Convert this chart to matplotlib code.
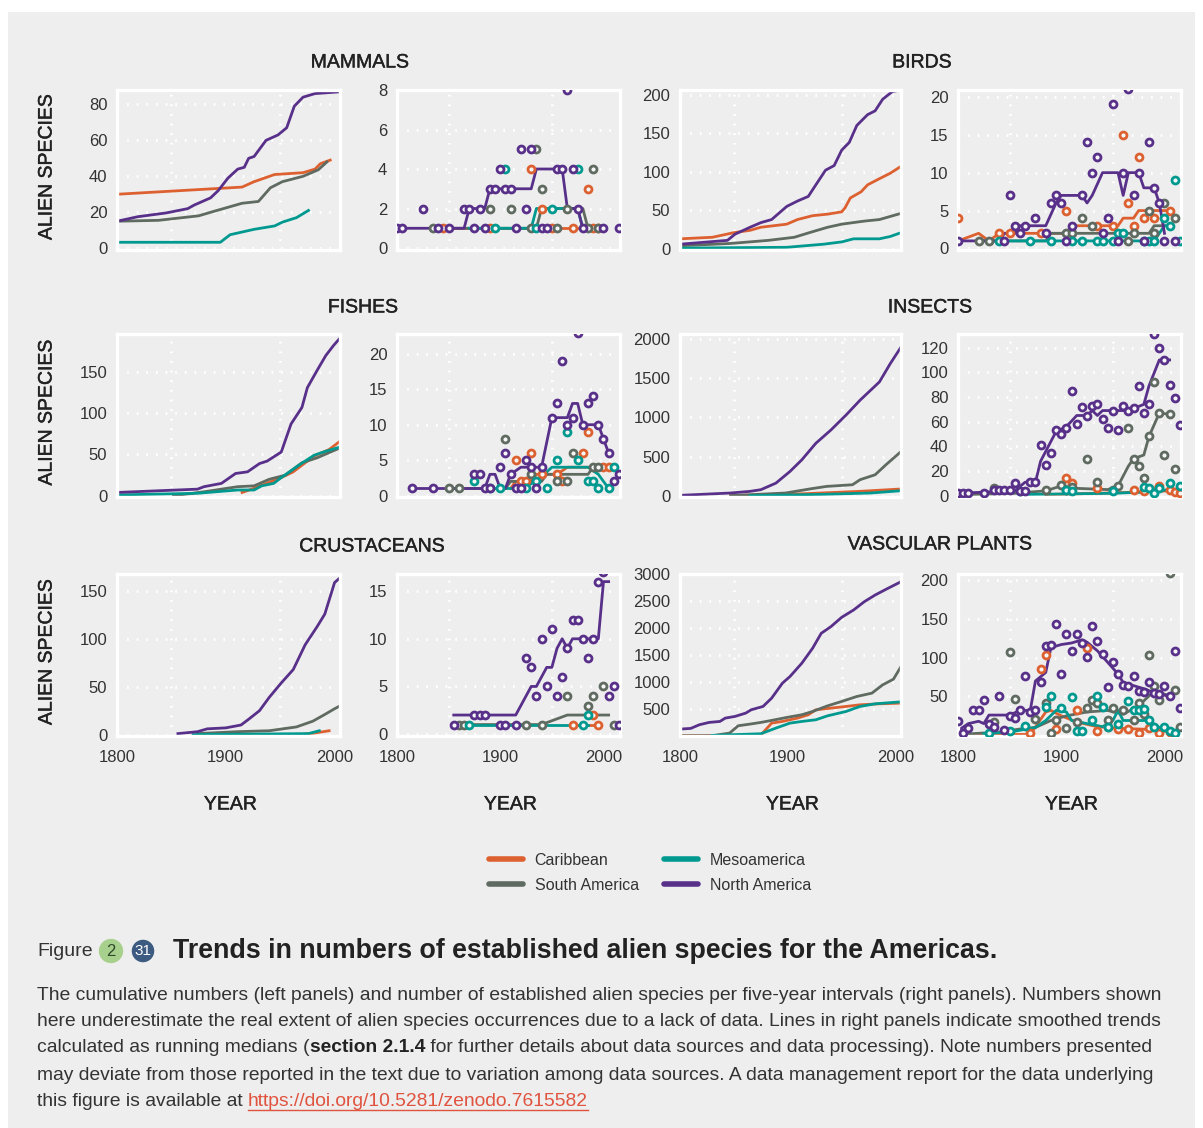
import matplotlib
matplotlib.use("Agg")
import matplotlib.pyplot as plt
import matplotlib.patheffects as pe
from matplotlib.lines import Line2D
from matplotlib.patches import Rectangle

W, H = 1203, 1128
BG = "#eeeeee"
TXT = "#222222"
FONT = ["Liberation Sans", "DejaVu Sans"]

REGIONS = ["Caribbean", "South America", "Mesoamerica", "North America"]
COLORS = {
    "Caribbean": "#dd6130",
    "South America": "#5f6a60",
    "Mesoamerica": "#00998f",
    "North America": "#58308a",
}

FIVE_YEAR_BINS = [1800, 1805, 1810, 1815, 1820, 1825, 1830, 1835, 1840, 1845, 1850,
                  1855, 1860, 1865, 1870, 1875, 1880, 1885, 1890, 1895, 1900, 1905,
                  1910, 1915, 1920, 1925, 1930, 1935, 1940, 1945, 1950, 1955, 1960,
                  1965, 1970, 1975, 1980, 1985, 1990, 1995, 2000, 2005, 2010, 2015]

# ---- MAMMALS ----
MAM_CUM = {
    "Caribbean": ([1800, 1915, 1926, 1945, 1971, 1982, 1987, 1996],
                  [30, 34, 37, 41, 42, 44, 47, 49]),
    "South America": ([1800, 1838, 1875, 1889, 1915, 1930, 1941, 1952, 1971, 1985, 1993],
                      [15, 15.5, 18, 20.5, 25, 26, 33.6, 37, 40, 43.6, 48]),
    "Mesoamerica": ([1800, 1895, 1904, 1926, 1945, 1952, 1965, 1976],
                    [3.3, 3.3, 7.5, 10.5, 12.4, 14.5, 17, 21]),
    "North America": ([1800, 1819, 1845, 1865, 1871, 1886, 1893, 1902, 1911, 1917, 1921, 1926,
                       1937, 1948, 1956, 1963, 1971, 1982, 2005],
                      [15, 17.5, 19.6, 22, 24, 28, 32, 39, 44, 45, 50, 51, 60, 63, 67, 79, 84, 86, 87]),
}
MAM_PTS = {
    "Caribbean": ([1845, 1890, 1930, 1940, 1950, 1970, 1985, 1990, 1995],
                  [1, 1, 4, 2, 1, 1, 3, 1, 1]),
    "South America": ([1835, 1890, 1910, 1930, 1935, 1940, 1955, 1965, 1985, 1990, 1995],
                      [1, 2, 2, 1, 5, 3, 1, 2, 1, 4, 1]),
    "Mesoamerica": ([1895, 1905, 1935, 1950, 1975], [1, 4, 1, 2, 4]),
    "North America": ([1800, 1805, 1825, 1840, 1850, 1865, 1870, 1875, 1880, 1885, 1890, 1895,
                       1900, 1905, 1910, 1915, 1920, 1925, 1930, 1940, 1945, 1955, 1960, 1965,
                       1970, 1975, 1980, 2000, 2015],
                      [1, 1, 2, 1, 1, 2, 2, 1, 2, 1, 3, 3, 4, 3, 3, 1, 5, 2, 5, 1, 1, 4, 4, 8,
                       4, 2, 1, 1, 1]),
}
MAM_MED = {
    "Caribbean": ([1845, 2000], [1, 1]),
    "South America": ([1835, 1935, 1940, 1980, 1985, 2000], [1, 1, 2, 2, 1, 1]),
    "Mesoamerica": ([1870, 1930, 1935, 1975, 1980], [1, 1, 2, 2, 1]),
    "North America": ([1800, 1865, 1870, 1885, 1890, 1930, 1935, 1960, 1965, 1975, 1980, 2000],
                      [1, 1, 2, 2, 3, 3, 4, 4, 2, 2, 1, 1]),
}

# ---- BIRDS ----
BIR_CUM = {
    "Caribbean": ([1800, 1830, 1850, 1865, 1875, 1899, 1909, 1923, 1937, 1950, 1953, 1958,
                   1968, 1974, 1985, 1995, 2005],
                  [13, 15, 21, 24, 28, 32, 38, 43, 45, 48, 53, 66, 74, 83, 91, 98, 107]),
    "South America": ([1800, 1847, 1882, 1906, 1920, 1937, 1950, 1971, 1985, 2005],
                      [4, 7, 11, 15, 21, 28, 32, 36, 38, 46]),
    "Mesoamerica": ([1800, 1899, 1933, 1950, 1961, 1985, 1995, 2005],
                    [1, 2, 6, 9, 13, 13, 16, 21]),
    "North America": ([1800, 1844, 1851, 1865, 1875, 1885, 1899, 1909, 1919, 1926, 1935, 1943,
                       1950, 1957, 1964, 1974, 1981, 1988, 1997, 2005],
                      [6, 11, 19, 28, 34, 38, 55, 62, 68, 83, 102, 108, 128, 138, 160, 174,
                       179, 194, 204, 206]),
}
BIR_PTS = {
    "Caribbean": ([1800, 1840, 1850, 1880, 1905, 1935, 1950, 1960, 1965, 1970, 1975, 1980, 1990, 2005],
                  [4, 2, 2, 2, 5, 3, 3, 15, 6, 3, 12, 4, 4, 5]),
    "South America": ([1820, 1830, 1905, 1910, 1920, 1930, 1965, 1970, 1985, 1990, 2000, 2010],
                      [1, 1, 2, 2, 4, 3, 1, 2, 5, 2, 6, 4]),
    "Mesoamerica": ([1840, 1870, 1890, 1910, 1920, 1935, 1940, 1950, 1955, 1960, 1980, 1985,
                     1990, 2000, 2005, 2010, 2015],
                    [1, 1, 1, 1, 1, 1, 1, 1, 2, 2, 1, 1, 1, 4, 3, 9, 1]),
    "North America": ([1800, 1845, 1850, 1855, 1860, 1865, 1875, 1885, 1890, 1895, 1900, 1905,
                       1910, 1920, 1925, 1930, 1935, 1940, 1945, 1950, 1955, 1960, 1965, 1970,
                       1975, 1980, 1985, 1990, 1995, 2000, 2010],
                      [1, 1, 7, 3, 2, 3, 4, 2, 6, 7, 6, 1, 3, 7, 14, 10, 12, 2, 4, 19, 1, 10,
                       21, 7, 10, 1, 14, 8, 6, 1, 1]),
}
BIR_MED = {
    "Caribbean": ([1800, 1820, 1830, 1840, 1905, 1910, 1955, 1960, 1970, 1975, 2005],
                  [1, 2, 1, 2, 2, 3, 3, 4, 4, 5, 5]),
    "South America": ([1820, 1885, 1890, 1985, 1990, 2000], [1, 1, 2, 2, 3, 3]),
    "Mesoamerica": ([1840, 1990, 2000, 2005], [1, 1, 3, 3]),
    "North America": ([1800, 1840, 1845, 1855, 1860, 1885, 1895, 1900, 1910, 1920, 1925, 1930,
                       1940, 1955, 1960, 1965, 1975, 1980, 1990, 1995, 2000],
                      [1, 1, 2, 2, 3, 3, 6, 7, 7, 7, 6, 7, 10, 10, 7, 10, 10, 8, 8, 6, 2]),
}

# ---- FISHES ----
FIS_CUM = {
    "Caribbean": ([1915, 1926, 1951, 1962, 1981, 1995, 2005], [4, 9, 22, 29, 48, 56, 66]),
    "South America": ([1852, 1881, 1911, 1926, 1940, 1955, 1970, 1984, 2005],
                      [0, 5, 11, 12, 20, 25, 40, 46, 58]),
    "Mesoamerica": ([1800, 1874, 1911, 1926, 1933, 1944, 1951, 1966, 1981, 1992, 2005],
                    [1, 3, 7, 7, 12, 15, 22, 36, 49, 54, 59]),
    "North America": ([1800, 1837, 1874, 1880, 1896, 1909, 1920, 1931, 1938, 1951, 1960, 1970,
                       1975, 1984, 1992, 1999, 2005],
                      [4, 6, 8, 11, 15, 27, 29, 39, 42, 53, 87, 107, 131, 152, 170, 182, 191]),
}
FIS_PTS = {
    "Caribbean": ([1915, 1920, 1925, 1930, 1940, 1955, 1960, 1980, 1985, 2000, 2005],
                  [5, 2, 2, 6, 3, 3, 2, 6, 9, 4, 4]),
    "South America": ([1850, 1860, 1905, 1930, 1955, 1965, 1970, 1990, 1995],
                      [1, 1, 8, 3, 2, 2, 6, 4, 4]),
    "Mesoamerica": ([1875, 1890, 1900, 1925, 1935, 1945, 1955, 1965, 1975, 1985, 1990, 1995,
                     2005, 2010],
                    [2, 1, 1, 1, 2, 1, 5, 9, 5, 2, 2, 1, 1, 4]),
    "North America": ([1815, 1835, 1875, 1880, 1885, 1890, 1900, 1905, 1910, 1915, 1920, 1925,
                       1930, 1935, 1940, 1950, 1955, 1960, 1965, 1970, 1975, 1980, 1985, 1990,
                       1995, 2000, 2005, 2010, 2015],
                      [1, 1, 3, 3, 1, 1, 4, 6, 3, 1, 1, 5, 4, 1, 4, 11, 13, 19, 10, 11, 23,
                       10, 13, 14, 10, 8, 6, 2, 3]),
}
FIS_MED = {
    "Caribbean": ([1910, 1915, 1930, 1935, 1955, 1965, 2005], [1, 2, 2, 3, 3, 4, 4]),
    "South America": ([1850, 1905, 1910, 1940, 1945, 1985, 1990, 2005], [1, 1, 2, 2, 3, 3, 4, 4]),
    "Mesoamerica": ([1890, 1920, 1935, 1950, 1985, 1995, 2000, 2005], [1, 1, 2, 4, 4, 3, 2, 1]),
    "North America": ([1815, 1885, 1890, 1895, 1900, 1905, 1910, 1920, 1940, 1950, 1965, 1970,
                       1975, 1980, 1995, 2000, 2005],
                      [1, 1, 3, 3, 1, 1, 3, 4, 4, 11, 11, 13, 13, 10, 10, 8, 6]),
}

# ---- INSECTS ----
INS_CUM = {
    "Caribbean": ([1847, 1916, 1967, 2005], [2, 27, 57, 87]),
    "South America": ([1847, 1898, 1922, 1936, 1960, 1967, 1981, 1991, 1998, 2005],
                      [2, 36, 91, 120, 141, 205, 268, 395, 479, 563]),
    "Mesoamerica": ([1865, 1933, 1977, 2005], [2, 19, 36, 65]),
    "North America": ([1800, 1847, 1865, 1875, 1889, 1902, 1913, 1926, 1940, 1954, 1967, 1985,
                       1995, 2005],
                      [6, 36, 57, 78, 162, 310, 458, 669, 838, 1028, 1217, 1450, 1682, 1893]),
}
INS_PTS = {
    "Caribbean": ([1905, 1910, 1935, 1970, 1980, 1990, 1995, 2005, 2010, 2015],
                  [14, 10, 6, 5, 4, 4, 8, 5, 3, 2]),
    "South America": ([1835, 1885, 1900, 1905, 1910, 1925, 1935, 1950, 1955, 1965, 1970, 1975,
                       1980, 1985, 1990, 1995, 2000, 2005, 2010],
                      [6, 5, 9, 5, 7, 30, 11, 5, 8, 55, 30, 24, 14, 48, 92, 67, 33, 66, 22]),
    "Mesoamerica": ([1860, 1905, 1910, 1950, 1980, 1985, 1990, 1995, 2005, 2015],
                    [4, 5, 4, 4, 7, 6, 2, 6, 10, 8]),
    "North America": ([1800, 1805, 1810, 1825, 1835, 1840, 1845, 1850, 1855, 1860, 1865, 1870,
                       1875, 1880, 1885, 1890, 1895, 1900, 1905, 1910, 1915, 1920, 1925, 1930,
                       1935, 1940, 1945, 1950, 1955, 1960, 1965, 1970, 1975, 1980, 1985, 1990,
                       1995, 2000, 2005, 2010, 2015],
                      [2, 2, 2, 2, 5, 5, 5, 5, 10, 4, 4, 11, 11, 41, 25, 35, 53, 50, 55, 85,
                       58, 72, 65, 73, 74, 62, 55, 69, 53, 73, 69, 71, 89, 67, 74, 131, 120,
                       110, 90, 79, 57]),
}
INS_MED = {
    "Caribbean": ([1885, 1935, 1975, 2005, 2015], [1, 2, 3, 4, 3]),
    "South America": ([1810, 1855, 1885, 1900, 1915, 1945, 1955, 1965, 1970, 1980, 1985, 1995, 2005],
                      [1, 2, 4, 8, 6, 5, 8, 24, 30, 33, 48, 67, 66]),
    "Mesoamerica": ([1860, 1950, 1980, 2005], [1, 2, 3, 5]),
    "North America": ([1800, 1855, 1865, 1875, 1880, 1885, 1895, 1905, 1915, 1925, 1930, 1935,
                       1940, 1965, 1980, 1985, 1995, 2005],
                      [2, 4, 11, 11, 28, 36, 52, 56, 65, 65, 69, 65, 69, 69, 74, 89, 110, 110]),
}

# ---- CRUSTACEANS ----
CRU_CUM = {
    "Caribbean": ([1969, 1984, 1995], [0, 2, 4]),
    "South America": ([1874, 1910, 1940, 1965, 1980, 1991, 2000, 2005], [1, 3, 4, 8, 14, 21, 27, 30]),
    "Mesoamerica": ([1870, 1976, 1986], [0, 1, 4]),
    "North America": ([1856, 1874, 1883, 1900, 1914, 1921, 1931, 1940, 1951, 1962, 1973, 1984,
                       1991, 2000, 2005],
                      [1, 3, 6, 7, 10, 16, 25, 39, 54, 68, 94, 113, 126, 159, 164]),
}
CRU_PTS = {
    "Caribbean": ([1970, 1990, 1995], [1, 2, 1]),
    "South America": ([1860, 1865, 1925, 1940, 1965, 1985, 1990, 2000, 2010],
                      [1, 1, 1, 1, 4, 3, 4, 5, 1]),
    "Mesoamerica": ([1870, 1980, 1985], [1, 1, 2]),
    "North America": ([1855, 1875, 1880, 1885, 1900, 1905, 1915, 1925, 1930, 1935, 1940, 1945,
                       1950, 1955, 1960, 1965, 1970, 1975, 1980, 1985, 1990, 1995, 2000, 2005,
                       2010, 2015],
                      [1, 2, 2, 2, 1, 1, 1, 8, 7, 4, 10, 5, 11, 4, 6, 9, 12, 12, 10, 8, 10,
                       16, 17, 4, 5, 1]),
}
CRU_MED = {
    "Caribbean": ([1970, 1995], [1, 1]),
    "South America": ([1860, 1940, 1965, 2005], [1, 1, 2, 2]),
    "Mesoamerica": ([1870, 1985], [1, 1]),
    "North America": ([1855, 1915, 1930, 1935, 1945, 1950, 1955, 1960, 1965, 1970, 1995, 2000, 2005],
                      [2, 2, 5, 5, 7, 7, 9, 10, 9, 10, 10, 16, 16]),
}

# ---- VASCULAR PLANTS ----
VAS_CUM = {
    "Caribbean": ([1800, 1875, 1885, 1895, 1909, 1919, 1926, 1940, 1954, 1967, 1985, 2005],
                  [0, 12, 234, 265, 327, 389, 481, 512, 543, 574, 592, 605]),
    "South America": ([1800, 1830, 1846, 1854, 1865, 1875, 1885, 1899, 1913, 1923, 1937, 1950,
                       1964, 1978, 1988, 1998, 2005],
                      [0, 0, 49, 185, 216, 247, 284, 339, 389, 450, 555, 636, 728, 790, 944,
                       1049, 1283]),
    "Mesoamerica": ([1830, 1875, 1889, 1902, 1913, 1926, 1937, 1954, 1967, 1981, 2005],
                    [6, 37, 142, 234, 265, 296, 370, 450, 543, 592, 629]),
    "North America": ([1800, 1810, 1818, 1827, 1837, 1842, 1851, 1861, 1866, 1877, 1885, 1895,
                       1902, 1913, 1923, 1931, 1940, 1950, 1961, 1971, 1981, 1991, 2005],
                      [123, 136, 204, 247, 265, 327, 358, 420, 481, 543, 697, 975, 1098, 1345,
                       1623, 1900, 2024, 2197, 2332, 2487, 2610, 2715, 2857]),
}
VAS_PTS = {
    "Caribbean": ([1870, 1880, 1885, 1895, 1915, 1925, 1935, 1945, 1955, 1965, 1975, 1985, 1995, 2005],
                  [3, 86, 103, 8, 33, 112, 5, 10, 8, 8, 3, 9, 3, 4]),
    "South America": ([1835, 1850, 1855, 1875, 1885, 1890, 1895, 1905, 1915, 1925, 1930, 1935,
                       1945, 1950, 1960, 1970, 1975, 1980, 1985, 1990, 1995, 2005, 2010, 2015],
                      [17, 107, 47, 21, 42, 3, 19, 9, 17, 35, 45, 41, 19, 35, 32, 19, 41, 27,
                       103, 63, 45, 209, 58, 10]),
    "Mesoamerica": ([1830, 1850, 1865, 1885, 1890, 1900, 1910, 1915, 1920, 1930, 1935, 1940,
                     1945, 1955, 1965, 1970, 1975, 1980, 1985, 1990, 2000, 2005, 2010],
                    [3, 6, 12, 36, 51, 35, 49, 6, 6, 19, 51, 36, 10, 15, 44, 32, 33, 34, 19,
                     10, 10, 6, 3]),
    "North America": (FIVE_YEAR_BINS,
                      [18, 3, 9, 33, 33, 45, 15, 11, 50, 7, 25, 22, 32, 76, 30, 33, 69, 115,
                       117, 144, 79, 130, 109, 131, 119, 101, 141, 122, 105, 62, 95, 79, 65,
                       63, 76, 57, 56, 69, 54, 53, 64, 50, 109, 35]),
}
VAS_MED = {
    "Caribbean": ([1800, 1870, 1885, 1890, 1900, 1915, 1935, 1955, 1975, 1995, 2005],
                  [1, 1, 30, 32, 25, 17, 11, 9, 8, 7, 4]),
    "South America": ([1800, 1840, 1860, 1875, 1890, 1905, 1925, 1945, 1960, 1975, 1990, 2005],
                      [1, 4, 8, 10, 19, 25, 30, 32, 27, 38, 57, 51]),
    "Mesoamerica": ([1825, 1850, 1875, 1885, 1895, 1905, 1910, 1925, 1940, 1950, 1955, 1960,
                     1975, 1985, 1995, 2005, 2010],
                    [2, 4, 10, 19, 32, 30, 19, 15, 11, 19, 32, 19, 19, 19, 10, 6, 2]),
    "North America": ([1800, 1810, 1820, 1825, 1830, 1850, 1860, 1870, 1875, 1885, 1890, 1900,
                       1910, 1920, 1925, 1935, 1945, 1955, 1960, 1970, 1980, 1990, 2005],
                      [6, 15, 18, 15, 26, 26, 32, 32, 70, 81, 113, 117, 119, 123, 120, 109, 94,
                       79, 68, 64, 60, 55, 50]),
}

TITLES = ["MAMMALS", "BIRDS", "FISHES", "INSECTS", "CRUSTACEANS", "VASCULAR PLANTS"]
CUM_YTICKS = [[0, 20, 40, 60, 80], [0, 50, 100, 150, 200], [0, 50, 100, 150],
              [0, 500, 1000, 1500, 2000], [0, 50, 100, 150], [500, 1000, 1500, 2000, 2500, 3000]]
PTS_YTICKS = [[0, 2, 4, 6, 8], [0, 5, 10, 15, 20], [0, 5, 10, 15, 20],
              [0, 20, 40, 60, 80, 100, 120], [0, 5, 10, 15], [50, 100, 150, 200]]
X_TICKS = [1800, 1900, 2000]
X_GRID = [1850, 1900, 1950, 2000]

LEGEND_LABELS = REGIONS
BODY_LINES = [
    "The cumulative numbers (left panels) and number of established alien species per five-year intervals (right panels). Numbers shown",
    "here underestimate the real extent of alien species occurrences due to a lack of data. Lines in right panels indicate smoothed trends",
    None,
    "may deviate from those reported in the text due to variation among data sources. A data management report for the data underlying",
    None,
]


def fx(x):
    return x / W


def fy(y):
    return 1 - y / H


def box(x0, y0, x1, y1):
    return [x0 / W, 1 - y1 / H, (x1 - x0) / W, (y1 - y0) / H]


# a thin stroke gives the labels the medium weight of the original
MEDIUM = [pe.withStroke(linewidth=0.3, foreground=TXT)]


def style_axes(ax, xlim, ylim, yticks, show_x):
    ax.set_facecolor(BG)
    for sp in ax.spines.values():
        sp.set_color("white")
        sp.set_linewidth(2.4)
    ax.set_xlim(*xlim)
    ax.set_ylim(*ylim)
    ax.set_yticks(yticks)
    ax.set_yticklabels([str(t) for t in yticks])
    ax.set_xticks(X_TICKS)
    ax.set_xticklabels([str(t) for t in X_TICKS])
    ax.set_xticks(X_GRID, minor=True)
    ax.tick_params(which="both", length=0, labelsize=12, labelcolor="#333333")
    ax.tick_params(axis="y", pad=7)
    ax.tick_params(axis="x", pad=10, labelbottom=show_x)
    dots = (0, (0.55, 2.6))
    ax.grid(axis="y", which="major", color="white", linestyle=dots, linewidth=2.2)
    ax.grid(axis="x", which="minor", color="white", linestyle=dots, linewidth=2.2)
    ax.grid(axis="x", which="major", visible=False)
    ax.set_axisbelow(True)


def draw_cumulative(ax, cum):
    for region in REGIONS:
        years, values = cum[region]
        ax.plot(years, values, color=COLORS[region], linewidth=2.0, solid_joinstyle="round", zorder=2)


def draw_intervals(ax, pts, med):
    for region in REGIONS:
        years, values = med[region]
        ax.plot(years, values, color=COLORS[region], linewidth=2.0, solid_joinstyle="round", zorder=2)
    for region in REGIONS:
        years, values = pts[region]
        ax.plot(years, values, linestyle="none", marker="o", markersize=5.0,
                markerfacecolor="#f6f6f6", markeredgecolor=COLORS[region],
                markeredgewidth=2.0, zorder=3)


plt.rcParams["font.family"] = FONT
fig = plt.figure(figsize=(W / 100, H / 100), dpi=100)
fig.patch.set_facecolor("white")
fig.patches.append(Rectangle((fx(8), 0), (1195 - 8) / W, fy(12), transform=fig.transFigure,
                             facecolor=BG, edgecolor="none", zorder=-10))

rows = [(90, 250), (334, 497), (574, 736)]
cols = [(117, 340, 397, 620), (680, 901, 958, 1181)]
groups = [
    (MAM_CUM, MAM_PTS, MAM_MED, (-1, 88), (-0.1, 8.0)),
    (BIR_CUM, BIR_PTS, BIR_MED, (-1.5, 206), (-0.2, 20.9)),
    (FIS_CUM, FIS_PTS, FIS_MED, (-1.5, 196), (-0.2, 22.8)),
    (INS_CUM, INS_PTS, INS_MED, (-15, 2060), (-1, 131)),
    (CRU_CUM, CRU_PTS, CRU_MED, (-1.5, 168), (-0.2, 16.8)),
    (VAS_CUM, VAS_PTS, VAS_MED, (-5, 3000), (-1, 208)),
]
title_xy = [(360, 63), (922, 63), (363, 308), (930, 308), (372, 547), (940, 545)]

for i, (cum, pts, med, ylim_c, ylim_p) in enumerate(groups):
    r, c = divmod(i, 2)
    y0, y1 = rows[r]
    xa0, xa1, xb0, xb1 = cols[c]
    bottom = r == 2

    ax_c = fig.add_axes(box(xa0, y0, xa1, y1))
    style_axes(ax_c, (1800, 2005), ylim_c, CUM_YTICKS[i], bottom)
    draw_cumulative(ax_c, cum)

    ax_p = fig.add_axes(box(xb0, y0, xb1, y1))
    style_axes(ax_p, (1800, 2016), ylim_p, PTS_YTICKS[i], bottom)
    draw_intervals(ax_p, pts, med)

    tx, ty = title_xy[i]
    fig.text(fx(tx), fy(ty), TITLES[i], ha="center", va="center", fontsize=14, color=TXT,
             path_effects=MEDIUM)

    if c == 0:
        fig.text(fx(47), fy((y0 + y1) / 2 - 3), "ALIEN SPECIES", rotation=90, ha="center",
                 va="center", fontsize=14, color=TXT, path_effects=MEDIUM)
    if bottom:
        for xx0, xx1 in [(xa0, xa1), (xb0, xb1)]:
            fig.text(fx((xx0 + xx1) / 2 + 2), fy(805), "YEAR", ha="center", va="center",
                     fontsize=14, color=TXT, path_effects=MEDIUM)

handles = [Line2D([0], [0], color=COLORS[r], linewidth=4, solid_capstyle="round") for r in REGIONS]
fig.legend(handles, LEGEND_LABELS, ncol=2, loc="center", bbox_to_anchor=(fx(650), fy(873)),
           frameon=False, fontsize=11.5, handlelength=2.1, handletextpad=0.75,
           columnspacing=1.6, labelspacing=0.62, labelcolor="#333333")

# ---- caption ----
renderer = fig.canvas.get_renderer()


def put_run(x, y, s, **kw):
    t = fig.text(fx(x), fy(y), s, ha="left", va="center", **kw)
    return x + t.get_window_extent(renderer).width, t


fig.text(fx(37), fy(951), "Figure", ha="left", va="center", fontsize=14, color="#333333")
fig.text(fx(111), fy(951), "2", ha="center", va="center", fontsize=12, color="#2f4a2a",
         bbox=dict(boxstyle="circle,pad=0.28", facecolor="#a8d08d", edgecolor="none"))
fig.text(fx(143), fy(951), "31", ha="center", va="center", fontsize=11, color="white",
         bbox=dict(boxstyle="circle,pad=0.18", facecolor="#3d5a80", edgecolor="none"))

title_str = "Trends in numbers of established alien species for the Americas."
probe = fig.text(0, 0, title_str, fontsize=16, fontweight="bold")
tw = probe.get_window_extent(renderer).width
probe.remove()
fig.text(fx(173), fy(951), title_str, ha="left", va="center", fontsize=16 * 823 / tw,
         fontweight="bold", color="#222222")

probe = fig.text(0, 0, BODY_LINES[0], fontsize=13)
bw = probe.get_window_extent(renderer).width
probe.remove()
bfs = 13 * 1120 / bw
line_y = [996, 1022, 1048, 1075, 1101]
body_kw = dict(fontsize=bfs, color="#333333")
for k, s in enumerate(BODY_LINES):
    if s is not None:
        put_run(37, line_y[k], s, **body_kw)

x, _ = put_run(37, line_y[2], "calculated as running medians (", **body_kw)
x, _ = put_run(x, line_y[2], "section 2.1.4", fontsize=bfs, color="#222222", fontweight="bold")
put_run(x, line_y[2], " for further details about data sources and data processing). Note numbers presented",
        **body_kw)

x, _ = put_run(37, line_y[4], "this figure is available at ", **body_kw)
x2, _ = put_run(x, line_y[4], "https://doi.org/10.5281/zenodo.7615582", fontsize=bfs, color="#e0533f")
fig.add_artist(Line2D([fx(x), fx(x2)], [fy(line_y[4] + 9), fy(line_y[4] + 9)],
                      transform=fig.transFigure, color="#e0533f", linewidth=1))

fig.savefig("out.png", dpi=100, facecolor=fig.get_facecolor())
